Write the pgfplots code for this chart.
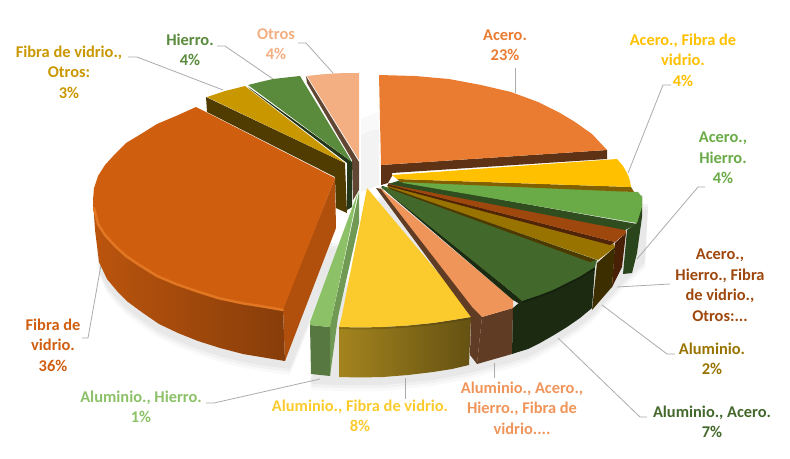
\documentclass[border=0pt]{standalone}
\usepackage{fontspec}
\setmainfont{Carlito}
\usepackage{pgfplots}
\usepackage{pgfplotstable}
\pgfplotsset{compat=1.18}

% series colours (top face)
\definecolor{cAcero}{HTML}{EA7C32}
\definecolor{cAceroFib}{HTML}{FFC000}
\definecolor{cAceroHie}{HTML}{6AAB47}
\definecolor{cAceroHFO}{HTML}{9E480E}
\definecolor{cAlu}{HTML}{997300}
\definecolor{cAluAce}{HTML}{43682B}
\definecolor{cAluAHF}{HTML}{F0955A}
\definecolor{cAluFib}{HTML}{FBCB2E}
\definecolor{cAluHie}{HTML}{8CC168}
\definecolor{cFib}{HTML}{D05E0F}
\definecolor{cFibOt}{HTML}{C99700}
\definecolor{cHie}{HTML}{5A8A3B}
\definecolor{cOt}{HTML}{F3AF82}
\definecolor{leader}{HTML}{ABABAB}

% outline of the soft shadow under the pie
\pgfplotstableread{
x y
95 210
99 266
107 283
117 295
128 306
143 317
159 328
178 337
198 345
220 352
243 358
267 362
290 365
340 240
}\shadowleft
\pgfplotstableread{
x y
310 374
312 380
339 381
383 381
433 376
469 369
512 358
528 353
554 339
580 322
592 312
622 280
645 258
648 200
380 190
}\shadowright

\tikzset{lab/.style={align=center,inner sep=0pt,font=\fontsize{16.4}{20.5}\selectfont\bfseries}}

\begin{document}
\begin{tikzpicture}
\begin{axis}[
    scale only axis,
    width=790pt, height=458pt,
    xmin=0, xmax=790,
    ymin=0, ymax=458,
    y dir=reverse,
    hide axis,
    clip=false,
    every axis plot/.append style={mark=none,draw=none},
]
% keeps the page at the full frame
\addplot[draw=none] coordinates {(0,0)(790,0)(790,458)(0,458)} -- cycle;

% shadow
\addplot[fill=black,fill opacity=0.025] table[y expr=\thisrow{y}+10] {\shadowleft} -- cycle;
\addplot[fill=black,fill opacity=0.03] table[y expr=\thisrow{y}+7] {\shadowleft} -- cycle;
\addplot[fill=black,fill opacity=0.04] table[y expr=\thisrow{y}+4] {\shadowleft} -- cycle;
\addplot[fill=black,fill opacity=0.025] table[y expr=\thisrow{y}+10] {\shadowright} -- cycle;
\addplot[fill=black,fill opacity=0.03] table[y expr=\thisrow{y}+7] {\shadowright} -- cycle;
\addplot[fill=black,fill opacity=0.04] table[y expr=\thisrow{y}+4] {\shadowright} -- cycle;
\addplot[fill=black,fill opacity=0.025] coordinates {(361,118)(379,112)(379,185)(361,192)} -- cycle;
\addplot[fill=black,fill opacity=0.025] coordinates {(361,135)(372,130)(379,130)(379,185)(361,192)} -- cycle;

% leader lines
\addplot[draw=leader,line width=0.8pt] coordinates {(515,68)(515,93)};
\addplot[draw=leader,line width=0.8pt] coordinates {(671,85)(663,85)(628,173)};
\addplot[draw=leader,line width=0.8pt] coordinates {(705,187)(698,187)(637,259)};
\addplot[draw=leader,line width=0.8pt] coordinates {(670,284)(617,287)};
\addplot[draw=leader,line width=0.8pt] coordinates {(675,354)(667,354)(602,305)};
\addplot[draw=leader,line width=0.8pt] coordinates {(647,417)(640,417)(558,338)};
\addplot[draw=leader,line width=0.8pt] coordinates {(494,363)(494,378)};
\addplot[draw=leader,line width=0.8pt] coordinates {(405,378)(405,399)};
\addplot[draw=leader,line width=0.8pt] coordinates {(206,403)(214,403)(320,379)};
\addplot[draw=leader,line width=0.8pt] coordinates {(82,338)(88,338)(101,265)};
\addplot[draw=leader,line width=0.8pt] coordinates {(128,57)(137,57)(223,90)};
\addplot[draw=leader,line width=0.8pt] coordinates {(217,46)(225,46)(273,79)};
\addplot[draw=leader,line width=0.8pt] coordinates {(298,43)(306,43)(333,73)};

% Otros
\addplot[fill=cOt!40!black] coordinates {(306,76)(359,162)(359,190)(353,200)(352,160)(307,83)} -- cycle;
\addplot[fill=cOt] coordinates {(307,76)(320,74.5)(333,73.5)(346,73)(359,73)(359,160)} -- cycle;
% Hierro
\addplot[fill=cHie!40!black] coordinates {(248,87)(352,162)(352,207)(347,210)(347,163)(250,89)} -- cycle;
\addplot[fill=cHie] coordinates {(248,85)(260,82)(273,79)(286,77.5)(300,76)(352,162)} -- cycle;
% Fibra de vidrio, Otros
\addplot[fill=cFibOt!40!black] coordinates {(206,97)(345,163)(347,213)(336,208)(335,177)(207,112)} -- cycle;
\addplot[fill=cFibOt] coordinates {(207,97)(216,94)(225,91)(235,88.5)(245,86)(345,163)} -- cycle;

% Fibra de vidrio
\addplot[fill=cFib!85!black] coordinates {(335,178)(336,228)(285,361)(283,308)} -- cycle;
\addplot[shade,left color=cFib!90!black,right color=cFib!65!black,shading angle=90]
  coordinates {(93,200)(95,230)(99,262)(107,279)(117,291)(128,302)(143,313)(159,324)(178,333)(198,341)(220,348)(243,354)(267,358)(285,361)
  (283,310)(266,307)(241,303)(218,298)(196,291)(176,284)(157,276)(141,266)(126,256)(115,246)(105,235)} -- cycle;
\addplot[fill=cFib] coordinates {(335,178)(196,107)(176,116)(157,124)(141,134)(126,143)(115,154)(105,165)(98,176)(94,188)(93,200)
  (94,212)(98,224)(105,235)(115,246)(126,256)(141,266)(157,276)(176,284)(196,291)(218,298)(241,303)(266,307)(283,310)} -- cycle;
\addplot[draw=cFib!70!orange!90!white,line width=2.5pt,line cap=round]
  coordinates {(94,208)(98,224)(105,235)(115,246)(126,256)(141,266)(157,276)(176,284)(196,291)(218,298)(241,303)(266,307)(283,310)};

% Aluminio, Hierro
\addplot[fill=cAluHie!80!black] coordinates {(359,192)(359,223)(338,317)(330,376)(330,320)(332,317)} -- cycle;
\addplot[fill=cAluHie!62!black] coordinates {(310,325)(330,327)(330,376)(311,374)} -- cycle;
\addplot[fill=cAluHie] coordinates {(358,192)(310,322)(310,325)(330,327)(332,317)} -- cycle;

% Aluminio, Fibra de vidrio
\addplot[shade,left color=cAluFib!65!black,right color=cAluFib!40!black,shading angle=90]
  coordinates {(339,327)(360,327.5)(383,327)(408,325.5)(433,323)(453,320)(471,317)(469,365)(452,369)(433,372)(408,375)(383,377)(360,377.5)(339,377)} -- cycle;
\addplot[fill=cAluFib] coordinates {(367,188)(471,312)(471,317)(453,320)(433,323)(408,325.5)(383,327)(360,327.5)(339,327)(342,315)} -- cycle;
\addplot[draw=black,draw opacity=0.15,line width=2pt] coordinates {(339,328)(360,328.5)(383,328)(408,326.5)(433,324)(453,321)(471,318)};

% Aluminio, Acero, Hierro, Fibra de vidrio
\addplot[fill=cAluAHF!40!black] coordinates {(376,188)(382,189)(482,317)(477,364)(470,355)(471,317)} -- cycle;
\addplot[fill=cAluAHF!40!black] coordinates {(482,317)(513,308)(512,354)(477,364)} -- cycle;
\addplot[fill=cAluAHF] coordinates {(380,188)(513,300)(513,308)(482,317)(473,308)} -- cycle;

% Acero, Hierro (side first, it lies behind the next ones)
\addplot[fill=cAceroHie!40!black] coordinates {(642,195)(642,217)(637,253)(632,273)(623,274)(627,230)(637,223)} -- cycle;
% Acero, Hierro, Fibra de vidrio, Otros
\addplot[fill=cAceroHFO!45!black] coordinates {(626,233)(622,267)(612,287)(615,243)} -- cycle;
% Aluminio
\addplot[fill=cAlu!40!black] coordinates {(615,247)(612,287)(592,310)(597,263)} -- cycle;
% Aluminio, Acero
\addplot[fill=cAluAce!40!black] coordinates {(595,267)(592,308)(580,318)(567,327)(554,335)(540,343)(528,349)(515,353)(512,354)(513,308)(520,302)} -- cycle;
\addplot[fill=cAluAce!40!black] coordinates {(381,187)(513,300)(520,304)(522,300)(513,293)(383,186)} -- cycle;
\addplot[fill=cAluAce] coordinates {(383,186)(597,260)(595,267)(581,276)(567,283)(553,290)(540,295)(522,301)(513,293)(382,188)} -- cycle;
\addplot[draw=black,draw opacity=0.2,line width=2pt] coordinates {(595,268)(581,277)(567,284)(553,291)(540,296)(522,302)};

% top faces on the right
\addplot[fill=cAlu] coordinates {(387,185)(613,243)(615,247)(598,260)(388,188)} -- cycle;
\addplot[fill=cAlu!50!black] coordinates {(388,187)(596,260)(590,262)(390,189)} -- cycle;
\addplot[fill=cAceroHFO!50!black] coordinates {(388,184)(615,242)(610,245)(388,186)} -- cycle;
\addplot[fill=cAceroHFO] coordinates {(388,183)(625,226)(626,233)(615,242)(390,185)} -- cycle;
\addplot[fill=cAceroHie!45!black] coordinates {(398,181)(637,224)(625,230)(388,184)} -- cycle;
\addplot[fill=cAceroHie] coordinates {(400,180)(638,192)(642,197)(642,207)(637,223)(403,183)} -- cycle;
\addplot[fill=cAceroFib!50!black] coordinates {(397,179)(631,187)(634,192)(400,182)} -- cycle;
\addplot[fill=cAceroFib] coordinates {(392,175)(617,159)(623,166)(628,175)(630,181)(631,187)(397,179)} -- cycle;

% Acero
\addplot[fill=cAcero!40!black] coordinates {(381,165)(607,150)(607,159)(392,173)(392,176)(388,183)(381,185)} -- cycle;
\addplot[fill=cAcero] coordinates {(379,75)(415,76)(449,79)(481,85)(511,92)(538,102)(560,113)(575,122)(592,134)(607,150)(381,165)} -- cycle;

% labels
\node[lab,text=cAcero] at (axis cs:505,45) {Acero.\\23\%};
\node[lab,text=cAceroFib] at (axis cs:683,60) {Acero., Fibra de\\vidrio.\\4\%};
\node[lab,text=cAceroHie] at (axis cs:723,158) {Acero.,\\Hierro.\\4\%};
\node[lab,text=cAceroHFO] at (axis cs:720,285) {Acero.,\\Hierro., Fibra\\de vidrio.,\\Otros:...};
\node[lab,text=cAlu] at (axis cs:712,359) {Aluminio.\\2\%};
\node[lab,text=cAluAce] at (axis cs:712,422) {Aluminio., Acero.\\7\%};
\node[lab,text=cAluAHF] at (axis cs:522,408) {Aluminio., Acero.,\\Hierro., Fibra de\\vidrio....};
\node[lab,text=cAluFib] at (axis cs:360,416) {Aluminio., Fibra de vidrio.\\8\%};
\node[lab,text=cAluHie] at (axis cs:141,407) {Aluminio., Hierro.\\1\%};
\node[lab,text=cFib] at (axis cs:53,345) {Fibra de\\vidrio.\\36\%};
\node[lab,text=cFibOt] at (axis cs:69,72) {Fibra de vidrio.,\\Otros:\\3\%};
\node[lab,text=cHie] at (axis cs:190,50) {Hierro.\\4\%};
\node[lab,text=cOt] at (axis cs:276,44) {Otros\\4\%};
\end{axis}
\end{tikzpicture}
\end{document}
